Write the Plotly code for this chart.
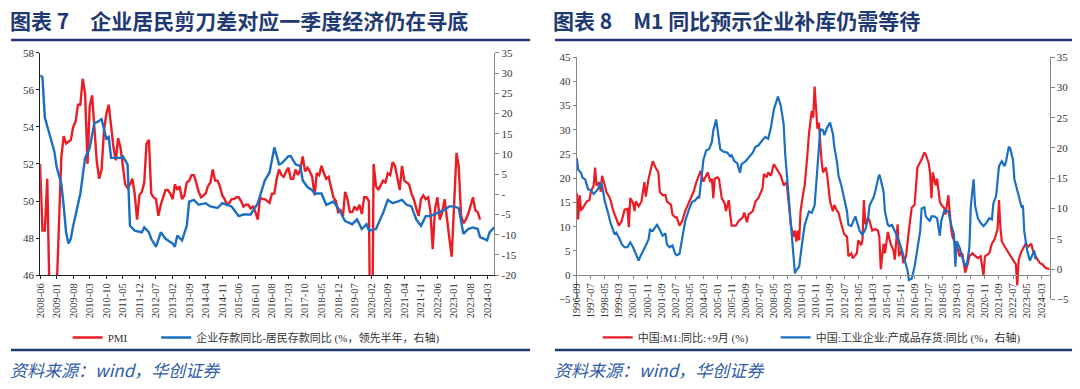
import pandas as pd
import plotly.graph_objects as go

# ---------------- Left chart data (图表7) ----------------
pmi_start = "2008-06-01"
pmi = [52.0, 48.4, 48.4, 51.2, 44.6, 38.8, 41.2,
       45.3, 49.0, 52.4, 53.5, 53.1, 53.2, 53.3, 54.0, 54.3, 55.2, 55.2, 56.6,
       55.8, 52.0, 55.1, 55.7, 53.9, 52.1, 51.2, 51.7, 53.8, 54.7, 55.2, 53.9,
       52.9, 52.2, 53.4, 52.9, 52.0, 50.9, 50.7, 50.9, 51.2, 50.4, 49.0, 50.3,
       50.5, 51.0, 53.1, 53.3, 50.4, 50.2, 50.1, 49.2, 49.8, 50.2, 50.6, 50.6,
       50.4, 50.1, 50.9, 50.6, 50.8, 50.1, 50.3, 51.0, 51.1, 51.4, 51.4, 51.0,
       50.5, 50.2, 50.3, 50.4, 50.8, 51.0, 51.7, 51.1, 51.1, 50.8, 50.3, 50.1,
       49.8, 49.9, 50.1, 50.1, 50.2, 50.2, 50.0, 49.7, 49.8, 49.8, 49.6, 49.7,
       49.4, 49.0, 50.2, 50.1, 50.1, 50.0, 49.9, 50.4, 50.4, 51.2, 51.7, 51.4,
       51.3, 51.6, 51.8, 51.2, 51.2, 51.7, 51.4, 51.7, 52.4, 51.6, 51.8, 51.6,
       51.3, 50.3, 51.5, 51.4, 51.9, 51.5, 51.2, 51.3, 50.8, 50.2, 50.0, 49.4,
       49.5, 49.2, 50.5, 50.1, 49.4, 49.4, 49.7, 49.5, 49.8, 49.3, 50.2, 50.2,
       50.0, 35.7, 52.0, 50.8, 50.6, 50.9, 51.1, 51.0, 51.5, 51.4, 52.1, 51.9,
       51.3, 50.6, 51.9, 51.1, 51.0, 50.9, 50.4, 50.1, 49.6, 49.2, 50.1, 50.3,
       50.1, 50.2, 49.5, 47.4, 49.6, 50.2, 49.0, 49.4, 50.1, 49.2, 48.0, 47.0,
       50.1, 52.6, 51.9, 49.2, 48.8, 49.0, 49.3, 49.7, 50.2, 49.5, 49.4, 49.0]

# 企业存款同比-居民存款同比 (months after 2008-06, value)
dep_month = [0, 1, 2, 4, 6, 7, 9, 10, 11, 12, 13, 14, 16, 17, 19, 21, 23, 24, 26, 28,
             29, 30, 34, 35, 37, 38, 40, 43, 44, 46, 47, 49, 51, 53, 56, 57, 58, 60, 62, 63,
             65, 67, 70, 72, 75, 77, 81, 84, 86, 89, 92, 95, 97, 99, 101, 102, 105, 106, 108, 110,
             111, 113, 115, 116, 119, 121, 124, 126, 129, 132, 134, 136, 138, 139, 142, 143, 145, 147, 149, 151,
             153, 155, 157, 159, 161, 163, 165, 168, 171, 173, 175, 177, 179, 181, 183, 185, 186, 189, 190, 192]
dep_spread = [29.4, 29.0, 19.0, 14.6, 10.6, 6.6, 2.6, -3.0, -9.4, -12.2, -11.0, -7.8, -3.0, 0.2, 9.0, 11.4, 17.8, 17.8, 18.6, 13.8,
              14.2, 9.0, 9.0, 9.4, 7.4, -7.8, -9.0, -9.4, -8.2, -9.4, -11.0, -13.0, -9.4, -11.0, -12.2, -13.0, -10.2, -11.4, -7.8, -1.8,
              -1.4, -2.6, -2.2, -3.0, -3.4, -2.2, -3.0, -5.4, -5.0, -5.0, -2.2, 3.4, 5.4, 11.6, 7.4, 7.6, 9.4, 9.4, 7.4, 7.0,
              3.4, 1.8, 1.0, 0.2, 0.2, -2.6, -1.8, -3.4, -6.6, -7.4, -6.2, -8.6, -7.4, -9.0, -8.6, -7.4, -4.6, -1.4, -2.2, -1.8,
              -1.4, -2.6, -3.0, -6.2, -7.8, -5.4, -5.4, -4.6, -3.8, -3.0, -3.0, -3.4, -9.8, -8.6, -8.2, -8.6, -10.6, -11.4, -9.4, -8.2]

# ---------------- Right chart data (图表8) ----------------
right_start = "1996-09-01"
m1_month = [0, 1, 2, 3, 4, 7, 9, 10, 12, 13, 14, 16, 17, 18, 20, 21, 23, 24, 26, 28,
            30, 32, 34, 36, 37, 38, 40, 41, 42, 44, 46, 48, 49, 51, 53, 54, 56, 58, 59, 61,
            63, 64, 67, 68, 70, 71, 73, 75, 77, 79, 81, 83, 85, 86, 88, 90, 93, 95, 96, 97,
            98, 100, 101, 103, 105, 106, 108, 109, 110, 113, 115, 118, 119, 121, 122, 125, 127, 129, 132, 133,
            135, 136, 138, 140, 142, 145, 147, 149, 151, 152, 154, 155, 156, 157, 158, 159, 161, 162, 164, 165,
            167, 168, 169, 170, 171, 172, 173, 174, 175, 177, 178, 180, 182, 183, 185, 186, 188, 190, 192, 193,
            195, 196, 199, 200, 202, 203, 204, 205, 207, 208, 210, 212, 214, 215, 216, 218, 219, 221, 223, 225,
            226, 228, 229, 231, 232, 234, 236, 238, 240, 241, 242, 245, 247, 248, 250, 251, 252, 253, 255, 256,
            258, 259, 261, 262, 264, 266, 267, 269, 271, 272, 274, 275, 276, 278, 279, 281, 283, 285, 287, 289,
            290, 293, 295, 297, 299, 300, 301, 302, 304, 307, 310, 312, 313, 314, 316, 319, 321, 323, 324, 326,
            329, 331, 333, 336]
m1_yoy = [16.9, 11.5, 16.5, 13.5, 13.7, 15.2, 15.5, 17.2, 18.5, 22.2, 18.5, 19.2, 17.2, 20.5, 18.5, 17.2, 16.2, 15.5, 13.2, 11.5,
          10.2, 11.2, 13.5, 13.7, 9.9, 15.9, 14.9, 13.2, 15.2, 14.2, 15.2, 19.2, 16.2, 19.9, 22.5, 23.5, 22.2, 21.2, 17.2, 16.5,
          16.5, 15.2, 14.5, 12.5, 11.9, 11.9, 10.2, 11.2, 13.2, 14.5, 15.9, 17.2, 19.2, 19.9, 21.5, 19.3, 21.2, 19.2, 19.9, 15.9,
          19.9, 20.2, 19.9, 15.9, 14.9, 13.2, 15.5, 12.5, 10.2, 10.2, 11.2, 11.9, 12.9, 10.9, 12.5, 13.2, 15.2, 15.9, 17.9, 20.9,
          20.2, 21.2, 20.5, 22.9, 21.9, 20.5, 18.5, 19.2, 13.9, 10.5, 7.9, 9.2, 6.9, 9.2, 7.2, 13.2, 17.2, 18.5, 25.2, 29.2,
          33.9, 32.5, 38.9, 33.2, 30.2, 31.5, 26.5, 23.5, 21.2, 22.2, 20.5, 15.2, 13.2, 14.5, 13.2, 12.9, 10.5, 8.5, 7.9, 3.9,
          4.5, 3.5, 4.5, 7.2, 6.2, 7.2, 15.5, 10.5, 11.9, 11.2, 9.2, 9.5, 9.2, 7.9, 1.2, 6.5, 4.5, 8.9, 6.5, 5.2,
          3.2, 10.5, 3.9, 5.2, 2.5, 3.9, 9.2, 13.9, 14.5, 18.5, 22.2, 23.9, 25.3, 24.9, 23.2, 21.2, 15.9, 21.2, 18.5, 19.9,
          15.2, 14.5, 13.9, 12.5, 16.5, 9.5, 7.9, 6.5, 5.2, 3.9, 4.5, 2.5, 0.5, 2.5, 3.9, 4.5, 3.9, 3.5, 3.9, -0.1,
          3.9, 4.5, 6.5, 7.5, 9.5, 15.5, 9.9, 7.0, 5.9, 4.5, 3.2, 2.2, -2.1, 3.2, 4.9, 6.5, 5.9, 6.5, 5.2, 3.9,
          2.5, 2.2, 1.5, 1.2]

inv_month = [0, 1, 3, 4, 6, 8, 10, 12, 15, 17, 18, 20, 22, 24, 27, 28, 30, 32, 34, 36,
             38, 40, 42, 44, 45, 47, 49, 51, 52, 54, 56, 57, 59, 61, 63, 64, 66, 68, 70, 71,
             73, 75, 77, 80, 82, 84, 86, 87, 88, 90, 92, 94, 96, 97, 99, 100, 102, 104, 107, 109,
             110, 112, 114, 116, 117, 120, 122, 125, 127, 129, 132, 134, 136, 138, 140, 143, 145, 147, 148, 150,
             152, 154, 155, 156, 158, 160, 162, 165, 167, 169, 170, 172, 173, 175, 176, 178, 180, 182, 183, 185,
             186, 188, 190, 192, 193, 195, 198, 200, 201, 203, 205, 207, 208, 211, 212, 214, 215, 216, 218, 219,
             221, 222, 224, 226, 228, 229, 231, 233, 235, 236, 238, 240, 242, 244, 245, 247, 248, 251, 252, 254,
             256, 258, 259, 261, 262, 264, 266, 268, 269, 270, 272, 274, 275, 277, 279, 280, 282, 283, 285, 287,
             289, 291, 293, 295, 296, 298, 299, 300, 302, 304, 305, 307, 308, 310, 311, 312, 314, 316, 317, 318,
             320, 322, 324, 325, 326]
inv_yoy = [18.3, 16.4, 15.9, 15.1, 14.8, 13.2, 13.0, 12.4, 13.2, 14.3, 13.8, 11.1, 9.5, 7.6, 5.7, 6.0, 5.2, 4.1, 3.6, 3.6,
           4.4, 3.6, 2.5, 1.4, 2.0, 3.1, 3.9, 4.9, 6.5, 6.3, 7.1, 7.3, 6.5, 5.5, 5.9, 4.1, 3.6, 3.9, 2.5, 2.3,
           2.5, 5.2, 7.9, 10.0, 11.1, 11.3, 11.9, 11.7, 13.8, 18.0, 19.6, 19.8, 21.0, 22.9, 24.7, 22.9, 19.8, 19.4, 19.2, 18.6,
           18.8, 17.8, 17.5, 15.9, 17.3, 17.8, 18.3, 19.2, 20.2, 20.4, 21.3, 21.8, 21.5, 23.4, 26.3, 28.5, 26.9, 23.9, 19.2, 13.8,
           8.4, 3.1, -0.7, -0.2, 0.4, 4.1, 7.3, 9.5, 9.3, 10.5, 13.8, 19.6, 23.1, 22.9, 22.1, 23.4, 24.2, 22.3, 20.2, 17.5,
           15.4, 13.8, 11.4, 9.5, 7.3, 7.1, 8.7, 7.3, 6.3, 5.7, 6.5, 8.4, 10.5, 11.9, 12.7, 14.8, 15.6, 14.8, 12.7, 9.5,
           7.3, 7.1, 7.3, 6.3, 5.2, 4.6, 3.1, 1.4, -0.2, -1.8, -1.6, 0.4, 3.6, 6.3, 10.0, 10.2, 8.7, 7.9, 8.7, 8.7,
           8.4, 5.5, 7.9, 9.5, 9.7, 9.5, 7.3, 5.7, 0.4, 4.6, 3.6, 2.0, 1.1, 0.4, 3.6, 10.5, 14.8, 10.5, 8.4, 7.6,
           7.1, 7.6, 8.4, 8.2, 10.8, 12.1, 14.3, 17.0, 17.8, 17.0, 17.8, 20.2, 19.9, 18.0, 14.8, 13.8, 12.1, 10.3, 10.5, 6.3,
           3.1, 1.4, 2.5, 3.1, 1.6]

left_tick_every = 7
right_tick_every = 10

RED = "#EA1C24"
BLUE = "#1B6FC3"
NAVY = "#1F3A73"
TICKFONT = dict(family="Liberation Serif, Times New Roman, serif", size=11, color="#333333")
LEGFONT = dict(family="Liberation Serif, Noto Sans CJK SC", size=11, color="#333333")


def month_dates(start, offsets):
    s = pd.Timestamp(start)
    return [s + pd.DateOffset(months=int(o)) for o in offsets]


pmi_dates = pd.date_range(pmi_start, periods=len(pmi), freq="MS")
dep_dates = month_dates(pmi_start, dep_month)
m1_dates = month_dates(right_start, m1_month)
inv_dates = month_dates(right_start, inv_month)

left_ticks = pd.date_range(pmi_start, "2024-03-01", freq=f"{left_tick_every}MS")
right_ticks = pd.date_range(right_start, "2024-03-01", freq=f"{right_tick_every}MS")

W, H = 1080, 389


def px_x(p):
    return p / W


def px_y(p):
    return 1 - p / H


fig = go.Figure()

fig.add_trace(go.Scatter(x=pmi_dates, y=pmi, mode="lines", name="PMI",
                         line=dict(color=RED, width=2.4), xaxis="x", yaxis="y", legend="legend"))
fig.add_trace(go.Scatter(x=dep_dates, y=dep_spread, mode="lines",
                         name="企业存款同比-居民存款同比 (%，领先半年，右轴)",
                         line=dict(color=BLUE, width=2.4), xaxis="x", yaxis="y2", legend="legend2"))
fig.add_trace(go.Scatter(x=m1_dates, y=m1_yoy, mode="lines", name="中国:M1:同比:+9月 (%)",
                         line=dict(color=RED, width=2.2), xaxis="x2", yaxis="y3", legend="legend3"))
fig.add_trace(go.Scatter(x=inv_dates, y=inv_yoy, mode="lines",
                         name="中国:工业企业:产成品存货:同比 (%，右轴)",
                         line=dict(color=BLUE, width=2.2), xaxis="x2", yaxis="y4", legend="legend4"))

left_dom_x = [px_x(34.3), px_x(491)]
left_dom_y = [px_y(277.7), px_y(48.3)]
right_dom_x = [px_x(574), px_x(1049.5)]
right_dom_y = [px_y(302.7), px_y(52.7)]

y2_vals = list(range(-20, 40, 5))
y2_text = ["-" if v == 0 else str(v) for v in y2_vals]


def leg(xpx):
    return dict(orientation="h", x=px_x(xpx), y=px_y(342), xanchor="left", yanchor="middle",
                font=LEGFONT, bgcolor="rgba(0,0,0,0)", itemwidth=30)


fig.update_layout(
    width=W, height=H, margin=dict(l=0, r=0, t=0, b=0),
    paper_bgcolor="white", plot_bgcolor="white",
    showlegend=True,
    xaxis=dict(domain=left_dom_x, anchor="y", type="date",
               range=[pd.Timestamp(pmi_start), pd.Timestamp("2024-06-01")],
               tickvals=left_ticks, ticktext=[d.strftime("%Y-%m") for d in left_ticks],
               tickangle=-90, tickfont=dict(TICKFONT, size=10.5), showgrid=False,
               showline=True, linecolor="#222222", linewidth=1, ticks="outside",
               ticklen=3, tickcolor="#222222", zeroline=False),
    yaxis=dict(domain=left_dom_y, anchor="x", range=[46, 58], dtick=2, tick0=46,
               showgrid=False, zeroline=False, showline=True, linecolor="#222222",
               linewidth=1, ticks="outside", ticklen=3, tickcolor="#222222", tickfont=TICKFONT),
    yaxis2=dict(overlaying="y", side="right", anchor="x", range=[-20, 35],
                tickvals=y2_vals, ticktext=y2_text, showgrid=False, zeroline=False,
                showline=True, linecolor="#888888", linewidth=1, ticks="outside",
                ticklen=4, tickcolor="#888888", tickfont=TICKFONT),
    xaxis2=dict(domain=right_dom_x, anchor="free", position=px_y(277.7), type="date",
                range=[pd.Timestamp(right_start), pd.Timestamp("2024-09-01")],
                tickvals=right_ticks, ticktext=[d.strftime("%Y-%m") for d in right_ticks],
                tickangle=-90, tickfont=dict(TICKFONT, size=10.5), showgrid=False,
                showline=True, linecolor="#888888", linewidth=1, ticks="outside",
                ticklen=3, tickcolor="#888888", zeroline=False),
    yaxis3=dict(domain=right_dom_y, anchor="x2", range=[-5, 45], dtick=5, tick0=-5,
                showgrid=False, zeroline=False, showline=True, linecolor="#888888",
                linewidth=1, ticks="outside", ticklen=3, tickcolor="#888888", tickfont=TICKFONT),
    yaxis4=dict(overlaying="y3", side="right", anchor="x2", range=[-5, 35], dtick=5, tick0=-5,
                showgrid=False, zeroline=False, showline=True, linecolor="#888888",
                linewidth=1, ticks="outside", ticklen=4, tickcolor="#888888", tickfont=TICKFONT),
    legend=leg(62), legend2=leg(151), legend3=leg(595), legend4=leg(774),
)

# titles
titles = [("图表 7　企业居民剪刀差对应一季度经济仍在寻底", 2),
          ("图表 8　M1 同比预示企业补库仍需等待", 548)]
for text, x0 in titles:
    fig.add_annotation(text=f"<b>{text}</b>", x=px_x(x0), y=px_y(14), xref="paper", yref="paper",
                       xanchor="left", yanchor="middle", showarrow=False,
                       font=dict(family="Noto Sans CJK SC", size=21, color=NAVY))

sources = [2, 549]
for x0 in sources:
    fig.add_annotation(text="<i>资料来源：wind，华创证券</i>", x=px_x(x0), y=px_y(375),
                       xref="paper", yref="paper", xanchor="left", yanchor="middle",
                       showarrow=False,
                       font=dict(family="Noto Sans CJK SC", size=17, color="#2F5BA8"))

# decorative rules under titles and above sources
for (xa, xb) in [(5, 527), (552, 1072)]:
    for yy in (35, 355):
        fig.add_shape(type="line", xref="paper", yref="paper",
                      x0=px_x(xa), x1=px_x(xb), y0=px_y(yy), y1=px_y(yy),
                      line=dict(color=NAVY, width=2.5))

fig.write_html("out.html", config={"displayModeBar": False},
               post_script="document.body.style.margin='0';document.body.style.padding='0';"
                           "document.body.style.overflow='hidden';")
